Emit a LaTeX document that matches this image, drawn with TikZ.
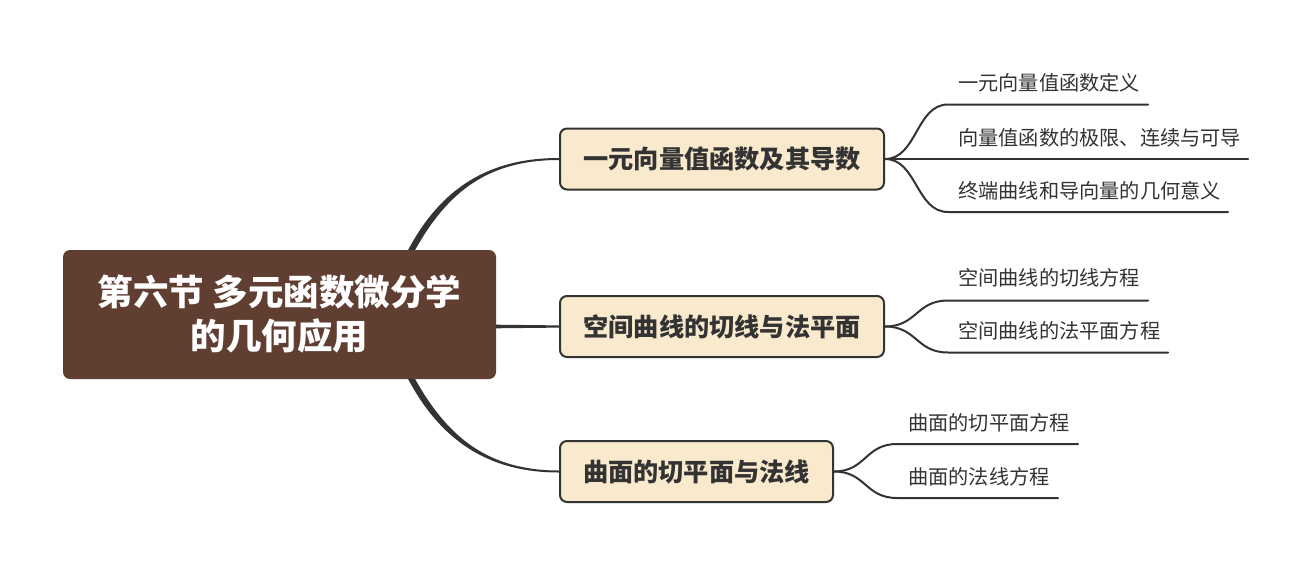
\documentclass[tikz,border=0pt]{standalone}
\usepackage{fontspec}
\setmainfont{Noto Sans CJK SC}
\usetikzlibrary{calc}
\definecolor{rootfill}{HTML}{603E32}
\definecolor{branchfill}{HTML}{F9E9CD}
\definecolor{ink}{HTML}{333333}
\tikzset{
  rootbox/.style={draw=none, fill=rootfill, rounded corners=7pt, text=white,
    minimum width=433pt, minimum height=129pt, align=center, inner sep=0pt,
    font=\fontsize{35.5pt}{44pt}\selectfont\bfseries},
  branchbox/.style={draw=ink, line width=2pt, fill=branchfill, rounded corners=7pt, text=ink,
    minimum height=61pt, inner sep=0pt, font=\fontsize{25.2pt}{28pt}\selectfont\bfseries},
  leaftext/.style={anchor=base west, inner sep=0pt, text=ink, font=\fontsize{20.2pt}{22pt}\selectfont},
  thickconn/.style={fill=ink, draw=none},
  leafconn/.style={draw=ink, line width=2pt, line cap=round},
}
\begin{document}
\begin{tikzpicture}[x=1pt,y=-1pt]
\useasboundingbox (0,0) rectangle (1311,565);

\node[rootbox] (root) at (279.5,314.5) {第六节 多元函数微分学\\的几何应用};

\node[branchbox, minimum width=324pt] (b1) at (722,159) {一元向量值函数及其导数};
\node[branchbox, minimum width=324pt] (b2) at (722,326.5) {空间曲线的切线与法平面};
\node[branchbox, minimum width=273pt] (b3) at (696.5,471.5) {曲面的切平面与法线};

% root connectors (tapered)
\path ([xshift=-88pt]root.north east) coordinate (ra1)
      ([xshift=-81pt]root.north east) coordinate (ra2)
      ([xshift=-88pt]root.south east) coordinate (rb1)
      ([xshift=-81pt]root.south east) coordinate (rb2);
\fill[thickconn] (ra1) .. controls +(33,-62) and +(-70,0) .. ([yshift=1pt]b1.west)
   -- ([yshift=-1pt]b1.west) .. controls +(-70,0) and +(33,-59) .. (ra2) -- cycle;
\fill[thickconn] (rb1) .. controls +(33,62) and +(-70,0) .. ([yshift=-1pt]b3.west)
   -- ([yshift=1pt]b3.west) .. controls +(-70,0) and +(33,59) .. (rb2) -- cycle;
\fill[thickconn] ([yshift=1.8pt]root.east |- b2.west) -- ([yshift=1.1pt]b2.west)
   -- ([yshift=-1.1pt]b2.west) -- ([yshift=-1.8pt]root.east |- b2.west) -- cycle;

% leaves of b1
\coordinate (l11s) at (948,104.5); \coordinate (l11e) at (1148,104.5);
\coordinate (l12e) at (1248,159);
\coordinate (l13s) at (948,212); \coordinate (l13e) at (1228,212);
\node[leaftext] (t11) at (958,90.5) {一元向量值函数定义};
\node[leaftext] (t12) at (958,145) {向量值函数的极限、连续与可导};
\node[leaftext] (t13) at (958,198) {终端曲线和导向量的几何意义};
\draw[leafconn] (b1.east) .. controls +(32,0) and +(-32,0) .. (l11s) -- (l11e);
\draw[leafconn] (b1.east) -- (l12e);
\draw[leafconn] (b1.east) .. controls +(32,0) and +(-32,0) .. (l13s) -- (l13e);

% leaves of b2
\coordinate (l21s) at (948,300.5); \coordinate (l21e) at (1148,300.5);
\coordinate (l22s) at (948,352.5); \coordinate (l22e) at (1168,352.5);
\node[leaftext] (t21) at (958,285.5) {空间曲线的切线方程};
\node[leaftext] (t22) at (958,338.5) {空间曲线的法平面方程};
\draw[leafconn] (b2.east) .. controls +(32,0) and +(-32,0) .. (l21s) -- (l21e);
\draw[leafconn] (b2.east) .. controls +(32,0) and +(-32,0) .. (l22s) -- (l22e);

% leaves of b3
\coordinate (l31s) at (897,444); \coordinate (l31e) at (1078,444);
\coordinate (l32s) at (897,498); \coordinate (l32e) at (1058,498);
\node[leaftext] (t31) at (908,430) {曲面的切平面方程};
\node[leaftext] (t32) at (908,484) {曲面的法线方程};
\draw[leafconn] (b3.east) .. controls +(32,0) and +(-32,0) .. (l31s) -- (l31e);
\draw[leafconn] (b3.east) .. controls +(32,0) and +(-32,0) .. (l32s) -- (l32e);
\end{tikzpicture}
\end{document}
